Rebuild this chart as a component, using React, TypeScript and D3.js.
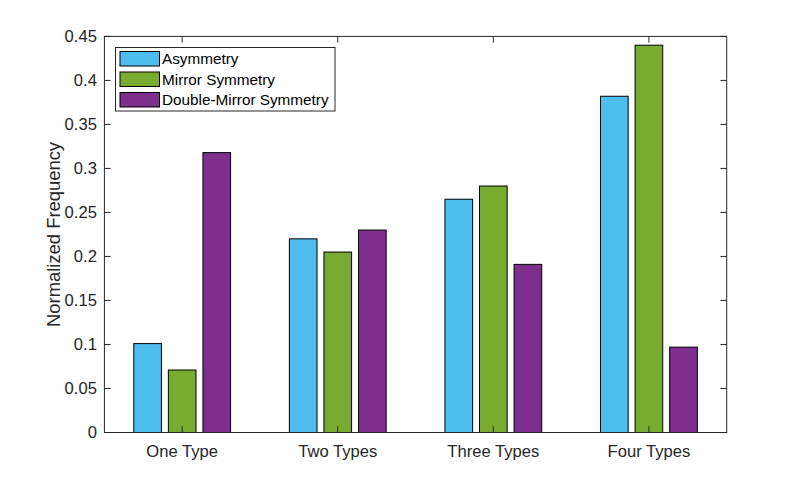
import { useEffect, useRef } from "react"
import * as d3 from "d3"

const categories = ["One Type", "Two Types", "Three Types", "Four Types"]
const seriesNames = ["Asymmetry", "Mirror Symmetry", "Double-Mirror Symmetry"]
const asymmetry = [0.101, 0.22, 0.265, 0.382]
const mirrorSymmetry = [0.071, 0.205, 0.28, 0.44]
const doubleMirror = [0.318, 0.23, 0.191, 0.097]
const yTicks = [0, 0.05, 0.1, 0.15, 0.2, 0.25, 0.3, 0.35, 0.4, 0.45]
const colors = ["#4DBEEE", "#77AC30", "#7E2F8E"]

const seriesValues = [asymmetry, mirrorSymmetry, doubleMirror]

export default function App() {
  const svgRef = useRef<SVGSVGElement | null>(null)

  useEffect(() => {
    if (!svgRef.current) return
    const svg = d3.select(svgRef.current)
    svg.selectAll("*").remove()

    const width = 803
    const height = 486
    const margin = { top: 36.4, right: 76.3, bottom: 53.5, left: 104.4 }
    const left = margin.left
    const right = width - margin.right
    const top = margin.top
    const bottom = height - margin.bottom
    const axisColor = "#262626"
    const font = "Arial, 'Liberation Sans', Helvetica, sans-serif"
    const tickFont = 16.6

    // MATLAB-like linear category axis
    const x = d3.scaleLinear().domain([0.5, categories.length + 0.5]).range([left, right])
    const y = d3.scaleLinear().domain([0, 0.45]).range([bottom, top])

    const nSeries = seriesValues.length
    const groupWidth = Math.min(0.8, nSeries / (nSeries + 1.5))
    const barWidth = (0.8 * groupWidth) / nSeries

    const g = svg.append("g")

    seriesValues.forEach((values, si) => {
      const offset = (si - (nSeries - 1) / 2) * (groupWidth / nSeries)
      g.append("g")
        .selectAll("rect")
        .data(values)
        .join("rect")
        .attr("x", (_, i) => x(i + 1 + offset - barWidth / 2))
        .attr("width", x(barWidth) - x(0))
        .attr("y", (d) => y(d))
        .attr("height", (d) => y(0) - y(d))
        .attr("fill", colors[si])
        .attr("stroke", "#000")
        .attr("stroke-width", 1)
    })

    const tickLen = 6.2

    // box
    svg
      .append("rect")
      .attr("x", left)
      .attr("y", top)
      .attr("width", right - left)
      .attr("height", bottom - top)
      .attr("fill", "none")
      .attr("stroke", axisColor)
      .attr("stroke-width", 1)

    // y ticks
    const yAxis = svg.append("g")
    yTicks.forEach((t) => {
      const yy = y(t)
      yAxis.append("line").attr("x1", left).attr("x2", left + tickLen).attr("y1", yy).attr("y2", yy).attr("stroke", axisColor)
      yAxis.append("line").attr("x1", right).attr("x2", right - tickLen).attr("y1", yy).attr("y2", yy).attr("stroke", axisColor)
      yAxis
        .append("text")
        .attr("x", left - 7.5)
        .attr("y", yy)
        .attr("dy", "0.35em")
        .attr("text-anchor", "end")
        .attr("font-family", font)
        .attr("font-size", tickFont)
        .attr("fill", axisColor)
        .text(d3.format("~g")(t))
    })

    // x ticks
    const xAxis = svg.append("g")
    categories.forEach((c, i) => {
      const xx = x(i + 1)
      xAxis.append("line").attr("x1", xx).attr("x2", xx).attr("y1", bottom).attr("y2", bottom - tickLen).attr("stroke", axisColor)
      xAxis.append("line").attr("x1", xx).attr("x2", xx).attr("y1", top).attr("y2", top + tickLen).attr("stroke", axisColor)
      xAxis
        .append("text")
        .attr("x", xx)
        .attr("y", bottom + 18.5)
        .attr("dy", "0.35em")
        .attr("text-anchor", "middle")
        .attr("font-family", font)
        .attr("font-size", tickFont)
        .attr("fill", axisColor)
        .text(c)
    })

    // y label
    svg
      .append("text")
      .attr("transform", `translate(54, ${(top + bottom) / 2}) rotate(-90)`)
      .attr("text-anchor", "middle")
      .attr("dy", "0.35em")
      .attr("font-family", font)
      .attr("font-size", 18.4)
      .attr("fill", axisColor)
      .text("Normalized Frequency")

    // legend
    const legend = svg.append("g").attr("transform", "translate(115.5, 47.5)")
    legend
      .append("rect")
      .attr("width", 219.5)
      .attr("height", 63.5)
      .attr("fill", "#fff")
      .attr("stroke", axisColor)
      .attr("stroke-width", 1)
    seriesNames.forEach((name, i) => {
      const rowY = 4 + i * 20.5
      legend
        .append("rect")
        .attr("x", 4.5)
        .attr("y", rowY)
        .attr("width", 39.5)
        .attr("height", 14.5)
        .attr("fill", colors[i])
        .attr("stroke", "#000")
      legend
        .append("text")
        .attr("x", 46.5)
        .attr("y", rowY + 7.5)
        .attr("dy", "0.35em")
        .attr("font-family", font)
        .attr("font-size", 15.3)
        .attr("fill", "#000")
        .text(name)
    })
  }, [])

  return (
    <div style={{ margin: -8 }}>
      <svg ref={svgRef} width={803} height={486} style={{ display: "block", background: "#fff" }} />
    </div>
  )
}
